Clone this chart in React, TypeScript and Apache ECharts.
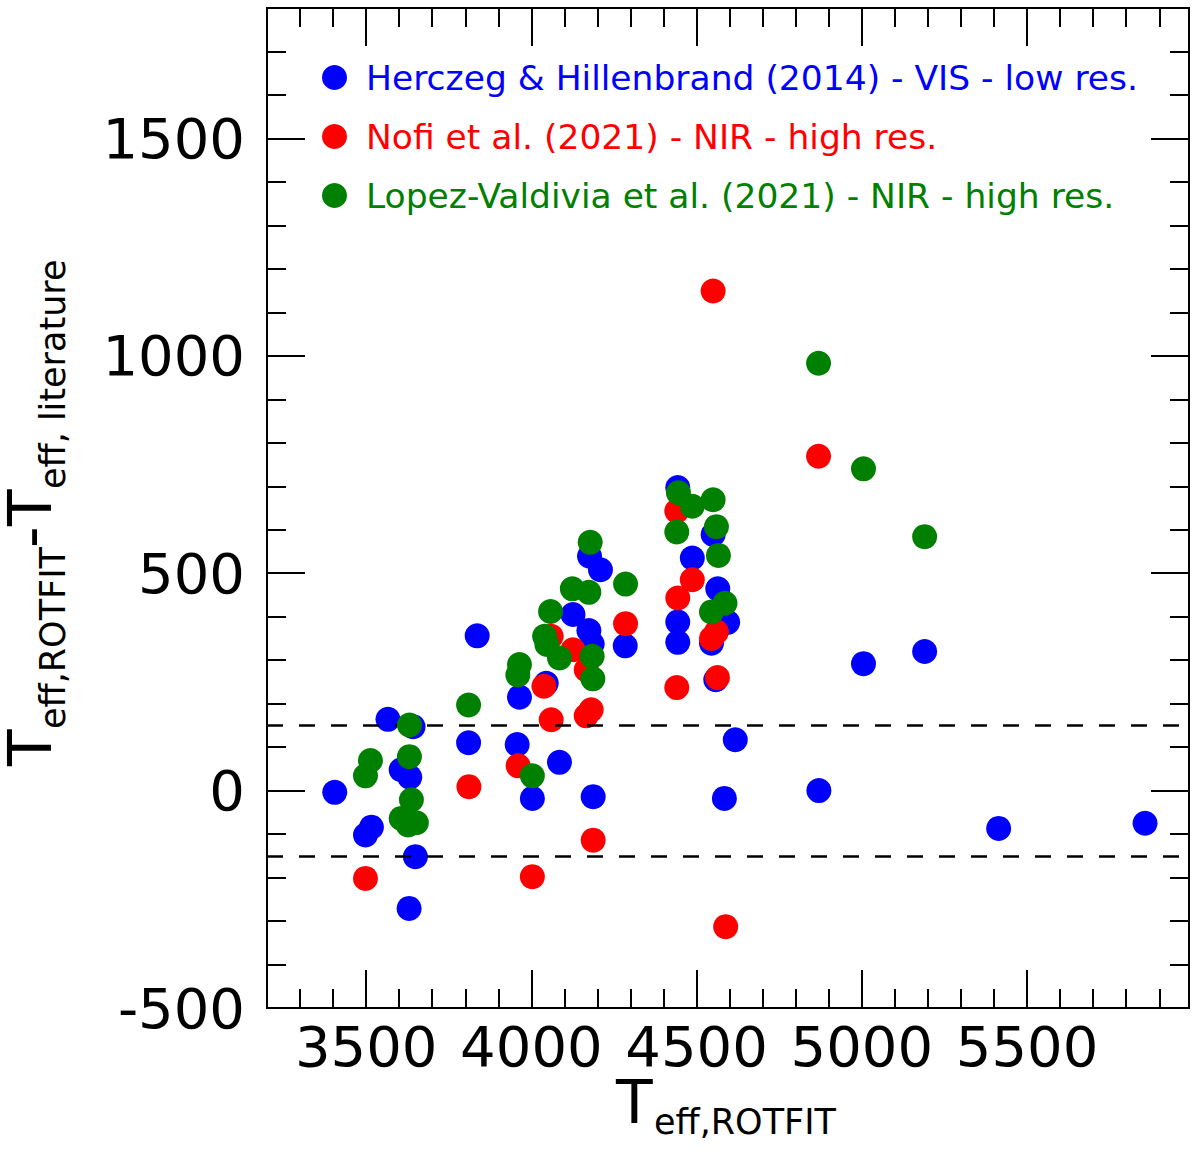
import { useEffect, useRef } from "react";
import * as echarts from "echarts";

// [Teff,ROTFIT , Teff,ROTFIT - Teff,literature]
const herczeg: [number, number][] = [
    [3405, -4], [3498, -102], [3516, -84], [3566, 164], [3606, 48], [3632, 31], [3642, 147], [3649, -152], [3630, -271],
    [3810, 110], [3836, 356], [3957, 106], [3964, 215], [4003, -18], [4045, 247], [4085, 65], [4126, 405], [4176, 539],
    [4209, 508], [4174, 368], [4184, 337], [4187, -14], [4284, 333],
    [4443, 697], [4443, 388], [4443, 341], [4487, 535], [4550, 589], [4564, 464], [4594, 387], [4545, 339], [4558, 255],
    [4584, -18], [4617, 117],
    [4870, 0], [5005, 292], [5190, 320], [5414, -87], [5857, -75],
];

const nofi: [number, number][] = [
    [3498, -202], [3811, 9], [3960, 57], [4003, -198], [4038, 240], [4060, 163], [4060, 355], [4126, 324], [4166, 172],
    [4181, 186], [4166, 278], [4187, -114], [4285, 384], [4440, 643], [4443, 443], [4440, 237], [4487, 485], [4545, 350],
    [4560, 365], [4563, 260], [4550, 1149], [4588, -313], [4869, 769],
];

const lopez: [number, number][] = [
    [3498, 34], [3513, 69], [3631, 151], [3631, 78], [3637, -21], [3606, -64], [3652, -74], [3627, -79],
    [3810, 197], [3959, 266], [3964, 290], [4003, 34], [4040, 355], [4047, 336], [4058, 412], [4085, 305], [4124, 464],
    [4174, 456], [4178, 571], [4184, 309], [4186, 257], [4285, 475],
    [4440, 595], [4445, 685], [4487, 654], [4550, 669], [4560, 607], [4566, 541], [4545, 411], [4586, 431],
    [4869, 983], [5005, 740], [5190, 584],
];

const seriesNames = [
    "Herczeg & Hillenbrand (2014) - VIS - low res.",
    "Nofi et al. (2021) - NIR - high res.",
    "Lopez-Valdivia et al. (2021) - NIR - high res.",
];
const seriesColors = ["#0000ff", "#ff0000", "#008000"];

const xMajorTicks = [3500, 4000, 4500, 5000, 5500];
const yMajorTicks = [-500, 0, 500, 1000, 1500];
const limitLines = [150, -150];

const X_MIN = 3200;
const X_MAX = 5990;
const Y_MIN = -500;
const Y_MAX = 1800;

const FONT = "DejaVu Sans";

export default function App() {
    const chartRef = useRef<HTMLDivElement | null>(null);

    useEffect(() => {
        if (!chartRef.current) return;
        document.body.style.margin = "0";

        const chart = echarts.init(chartRef.current, undefined, { renderer: "svg" });

        const tickLine = { color: "#000", width: 2 };
        const labelStyle = { color: "#000", fontSize: 56, fontFamily: FONT, formatter: (v: number) => String(v) };

        const xAxisOf = (position: "bottom" | "top", major: boolean): any => ({
            type: "value",
            position,
            min: X_MIN,
            max: X_MAX,
            ...(major ? {} : { interval: 100 }),
            axisLine: { show: false, onZero: false },
            splitLine: { show: false },
            axisTick: major
                ? { inside: true, length: 38, customValues: xMajorTicks, lineStyle: tickLine }
                : { inside: true, length: 19, lineStyle: tickLine },
            axisLabel:
                major && position === "bottom"
                    ? { ...labelStyle, margin: 10, customValues: xMajorTicks }
                    : { show: false },
        });

        const yAxisOf = (position: "left" | "right", major: boolean): any => ({
            type: "value",
            position,
            min: Y_MIN,
            max: Y_MAX,
            ...(major ? {} : { interval: 100 }),
            axisLine: { show: false, onZero: false },
            splitLine: { show: false },
            axisTick: major
                ? { inside: true, length: 38, customValues: yMajorTicks, lineStyle: tickLine }
                : { inside: true, length: 19, lineStyle: tickLine },
            axisLabel:
                major && position === "left"
                    ? { ...labelStyle, margin: 22, customValues: yMajorTicks }
                    : { show: false },
        });

        const datasets = [herczeg, nofi, lopez];
        const txt = (text: string, size: number) => ({
            text,
            font: `${size}px "${FONT}"`,
            lineHeight: Math.round(size * 0.82),
            fill: "#000",
            align: "left",
            verticalAlign: "middle",
        });

        const option: echarts.EChartsOption = {
            animation: false,
            backgroundColor: "#fff",
            grid: {
                left: 267,
                right: 11,
                top: 8,
                bottom: 143,
                show: true,
                borderColor: "#000",
                borderWidth: 2,
                containLabel: false,
            },
            legend: {
                orient: "vertical",
                left: 317,
                top: 55,
                icon: "circle",
                itemWidth: 25,
                itemHeight: 25,
                itemGap: 24,
                selectedMode: false,
                textStyle: { fontSize: 34.5, fontFamily: FONT, lineHeight: 34, padding: [0, 0, 0, 14] },
                data: seriesNames.map((name, i) => ({ name, textStyle: { color: seriesColors[i] } })),
            },
            xAxis: [xAxisOf("bottom", true), xAxisOf("bottom", false), xAxisOf("top", true), xAxisOf("top", false)],
            yAxis: [yAxisOf("left", true), yAxisOf("left", false), yAxisOf("right", true), yAxisOf("right", false)],
            series: datasets.map((d, i) => ({
                name: seriesNames[i],
                type: "scatter",
                xAxisIndex: 0,
                yAxisIndex: 0,
                data: d,
                symbol: "circle",
                symbolSize: 25,
                itemStyle: { color: seriesColors[i], opacity: 1 },
                emphasis: { disabled: true },
                z: 3 + i,
                ...(i === 0
                    ? {
                          markLine: {
                              silent: true,
                              symbol: "none",
                              label: { show: false },
                              lineStyle: { color: "#000", width: 2.5, type: [16, 16] },
                              data: limitLines.map((v) => ({ yAxis: v })),
                          },
                      }
                    : {}),
            })),
            graphic: [
                { type: "text", x: 616, y: 1102, style: txt("T", 60) },
                { type: "text", x: 654, y: 1122, style: txt("eff,ROTFIT", 35) },
                {
                    type: "group",
                    x: 1,
                    y: 766,
                    rotation: Math.PI / 2,
                    children: [
                        { type: "text", x: 0, y: 29, style: txt("T", 60) },
                        { type: "text", x: 37, y: 52, style: txt("eff,ROTFIT", 35) },
                        { type: "text", x: 218, y: 29, style: txt("-", 60) },
                        { type: "text", x: 240, y: 29, style: txt("T", 60) },
                        { type: "text", x: 277, y: 52, style: txt("eff, literature", 35) },
                    ],
                },
            ],
        };

        chart.setOption(option);

        return () => {
            chart.dispose();
        };
    }, []);

    return <div ref={chartRef} style={{ width: 1200, height: 1151 }} />;
}
